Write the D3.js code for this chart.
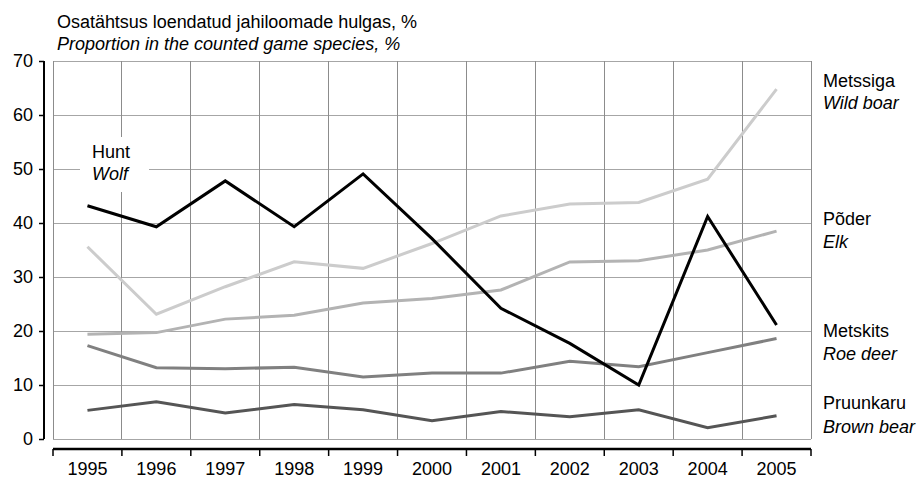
<!DOCTYPE html>
<html><head><meta charset="utf-8">
<script src="https://cdn.jsdelivr.net/npm/d3@7"></script>
<style>body{margin:0;background:#fff}svg{display:block}text{font-family:"Liberation Sans",Arial,sans-serif;fill:#000}</style>
</head><body><svg id="c" width="916" height="481"></svg>
<script>
const years = ["1995","1996","1997","1998","1999","2000","2001","2002","2003","2004","2005"];
const wildBoar = [35.6,23.1,28.2,32.8,31.6,36.2,41.3,43.5,43.8,48.1,64.8];
const elk      = [19.4,19.7,22.2,22.9,25.2,26.0,27.6,32.8,33.0,35.0,38.5];
const wolf     = [43.2,39.3,47.8,39.3,49.1,37.1,24.2,17.7,10.0,41.2,21.1];
const roeDeer  = [17.3,13.2,13.0,13.3,11.5,12.2,12.2,14.4,13.4,16.0,18.6];
const brownBear= [5.3,6.9,4.8,6.4,5.4,3.4,5.1,4.1,5.4,2.1,4.3];
const yTicks = [0,10,20,30,40,50,60,70];
const titleEt = "Osatähtsus loendatud jahiloomade hulgas, %";
const titleEn = "Proportion in the counted game species, %";
const series = [
  {name:"Metssiga", en:"Wild boar", values:wildBoar, color:"#cccccc"},
  {name:"Põder", en:"Elk", values:elk, color:"#b3b3b3"},
  {name:"Metskits", en:"Roe deer", values:roeDeer, color:"#808080"},
  {name:"Pruunkaru", en:"Brown bear", values:brownBear, color:"#555555"},
  {name:"Hunt", en:"Wolf", values:wolf, color:"#000000"}
];
const svg = d3.select("#c");
const L=53, R=811, T=61, B=439;
const x = d3.scaleBand().domain(years).range([L,R]).padding(0);
const y = d3.scaleLinear().domain([0,70]).range([B,T]);
const FS = 18;

// grid
const g = svg.append("g");
g.selectAll(".hg").data(yTicks).join("line")
  .attr("x1",L).attr("x2",R).attr("y1",d=>y(d)).attr("y2",d=>y(d))
  .attr("stroke","#a6a6a6").attr("stroke-width",1).attr("shape-rendering","crispEdges");
const bounds = years.map(d=>x(d)).concat([R]);
g.selectAll(".vg").data(bounds).join("line")
  .attr("x1",d=>d).attr("x2",d=>d).attr("y1",T).attr("y2",B)
  .attr("stroke","#8c8c8c").attr("stroke-width",1).attr("shape-rendering","crispEdges");

// Wolf label with white background
svg.append("rect").attr("x",80).attr("y",137).attr("width",69).attr("height",55).attr("fill","#fff");

// y axis
const ya = svg.append("g").attr("transform","translate(44,0)")
  .call(d3.axisLeft(y).tickValues(yTicks).tickSize(5).tickPadding(6));
ya.select(".domain").attr("stroke","#000").attr("stroke-width",2).attr("d",`M0,${T}V${B}`);
ya.selectAll(".tick line").attr("stroke","#000").attr("stroke-width",1.5);
ya.selectAll(".tick text").attr("font-size",FS).attr("font-family","Liberation Sans, Arial").attr("fill","#000");

// x axis
const xa = svg.append("g").attr("transform","translate(0,449)")
  .call(d3.axisBottom(x).tickSize(0).tickPadding(13));
xa.select(".domain").attr("stroke","#000").attr("stroke-width",2.5).attr("d",`M${L},0H${R}`);
xa.selectAll(".tick text").attr("font-size",FS).attr("font-family","Liberation Sans, Arial").attr("fill","#000");
svg.append("g").selectAll("line").data(bounds).join("line")
  .attr("x1",d=>d).attr("x2",d=>d).attr("y1",449).attr("y2",456)
  .attr("stroke","#000").attr("stroke-width",1.5);

// lines
const line = d3.line().x((d,i)=>x(years[i])+x.bandwidth()/2).y(d=>y(d));
svg.append("g").selectAll("path").data(series).join("path")
  .attr("d",d=>line(d.values)).attr("fill","none")
  .attr("stroke",d=>d.color).attr("stroke-width",3).attr("stroke-linejoin","miter");

// titles
svg.append("text").attr("x",57).attr("y",28).attr("font-size",FS)
  .attr("textLength",360).attr("lengthAdjust","spacing").text(titleEt);
svg.append("text").attr("x",57).attr("y",50).attr("font-size",FS).attr("font-style","italic").text(titleEn);

// right labels
const labs = [
  {s:series[0], y1:87, y2:109},
  {s:series[1], y1:225, y2:248},
  {s:series[2], y1:337, y2:360},
  {s:series[3], y1:409, y2:433}
];
labs.forEach(l=>{
  svg.append("text").attr("x",823).attr("y",l.y1).attr("font-size",FS).text(l.s.name);
  svg.append("text").attr("x",823).attr("y",l.y2).attr("font-size",FS).attr("font-style","italic").text(l.s.en);
});
svg.append("text").attr("x",92).attr("y",158).attr("font-size",FS).text(series[4].name);
svg.append("text").attr("x",92).attr("y",180).attr("font-size",FS).attr("font-style","italic").text(series[4].en);
</script></body></html>
